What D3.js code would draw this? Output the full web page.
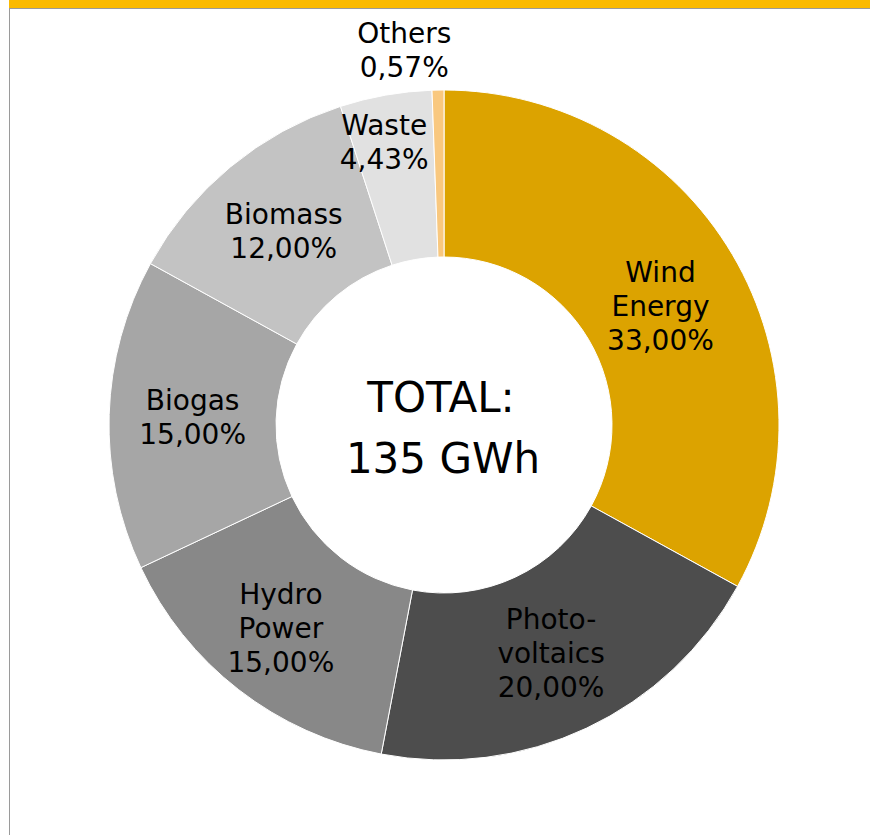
<!DOCTYPE html>
<html>
<head>
<meta charset="utf-8">
<script src="https://cdn.jsdelivr.net/npm/d3@7"></script>
<style>
  html, body { margin: 0; padding: 0; background: #fff; }
  svg { display: block; }
  text { font-family: "DejaVu Sans", Verdana, sans-serif; fill: #000; }
</style>
</head>
<body>
<svg id="chart" width="870" height="835"></svg>
<script>
// Renewable energy sources, share of total generation (%)
const categories = ["Wind Energy", "Photovoltaics", "Hydro Power", "Biogas", "Biomass", "Waste", "Others"];
const labelLines = [["Wind", "Energy"], ["Photo-", "voltaics"], ["Hydro", "Power"], ["Biogas"], ["Biomass"], ["Waste"], ["Others"]];
const shares = [33.00, 20.00, 15.00, 15.00, 12.00, 4.43, 0.57];
const totalLabel = ["TOTAL:", "135 GWh"];

const colors = ["#DCA300", "#4D4D4D", "#888888", "#A6A6A6", "#C3C3C3", "#E1E1E1", "#F9C87F"];

// small label nudges where the placement leaves the centroid
const labelNudge = {
  "Wind Energy": [0, 9],
  "Hydro Power": [-9, 4],
  "Waste": [-16, -35],
  "Others": [-33, 2]
};

const W = 870, H = 835;
const cx = 444, cy = 425;
const outerR = 335, innerR = 168;
const fontSize = 28, lineH = 34;

const svg = d3.select("#chart");

// frame: top band and left rule
svg.append("rect").attr("x", 9).attr("y", 0).attr("width", W - 9).attr("height", 8).attr("fill", "#FBBA00");
svg.append("line").attr("x1", 9).attr("x2", W).attr("y1", 8.5).attr("y2", 8.5).attr("stroke", "#9a9a9a").attr("stroke-width", 1);
svg.append("line").attr("x1", 9.5).attr("x2", 9.5).attr("y1", 8).attr("y2", H).attr("stroke", "#9a9a9a").attr("stroke-width", 1);

const locale = d3.formatLocale({ decimal: ",", thousands: ".", grouping: [3], currency: ["", "€"] });
const fmt = v => locale.format(".2f")(v) + "%";

const data = categories.map((c, i) => ({ name: c, lines: labelLines[i], value: shares[i], color: colors[i] }));

const pie = d3.pie().value(d => d.value).sort(null).startAngle(0).endAngle(2 * Math.PI);
const arcs = pie(data);

const arc = d3.arc().innerRadius(innerR).outerRadius(outerR);
const labelArc = d3.arc().innerRadius((innerR + outerR) / 2).outerRadius((innerR + outerR) / 2);
const outsideArc = d3.arc().innerRadius(outerR + 42).outerRadius(outerR + 42);

const g = svg.append("g").attr("transform", `translate(${cx},${cy})`);

g.selectAll("path.slice")
  .data(arcs)
  .join("path")
  .attr("class", "slice")
  .attr("d", arc)
  .attr("fill", d => d.data.color)
  .attr("stroke", "#fff")
  .attr("stroke-width", 1);

// slice labels: name lines plus share
const labels = g.selectAll("text.label")
  .data(arcs)
  .join("text")
  .attr("class", "label")
  .attr("text-anchor", "middle")
  .attr("font-size", fontSize)
  .each(function (d) {
    const isSmall = d.data.value < 1;
    const [x0, y0] = isSmall ? outsideArc.centroid(d) : labelArc.centroid(d);
    const nudge = labelNudge[d.data.name] || [0, 0];
    const x = x0 + nudge[0], y = y0 + nudge[1];
    const lines = d.data.lines.concat([fmt(d.data.value)]);
    const top = y - (lines.length - 1) * lineH / 2;
    const t = d3.select(this);
    lines.forEach((ln, i) => {
      t.append("tspan")
        .attr("x", x)
        .attr("y", top + i * lineH + fontSize * 0.36)
        .text(ln);
    });
  });

// centre caption
const centre = svg.append("text")
  .attr("text-anchor", "middle")
  .attr("font-size", 42);
centre.append("tspan").attr("x", cx - 3).attr("y", 412).text(totalLabel[0]);
centre.append("tspan").attr("x", cx - 1).attr("y", 473).text(totalLabel[1]);
</script>
</body>
</html>
